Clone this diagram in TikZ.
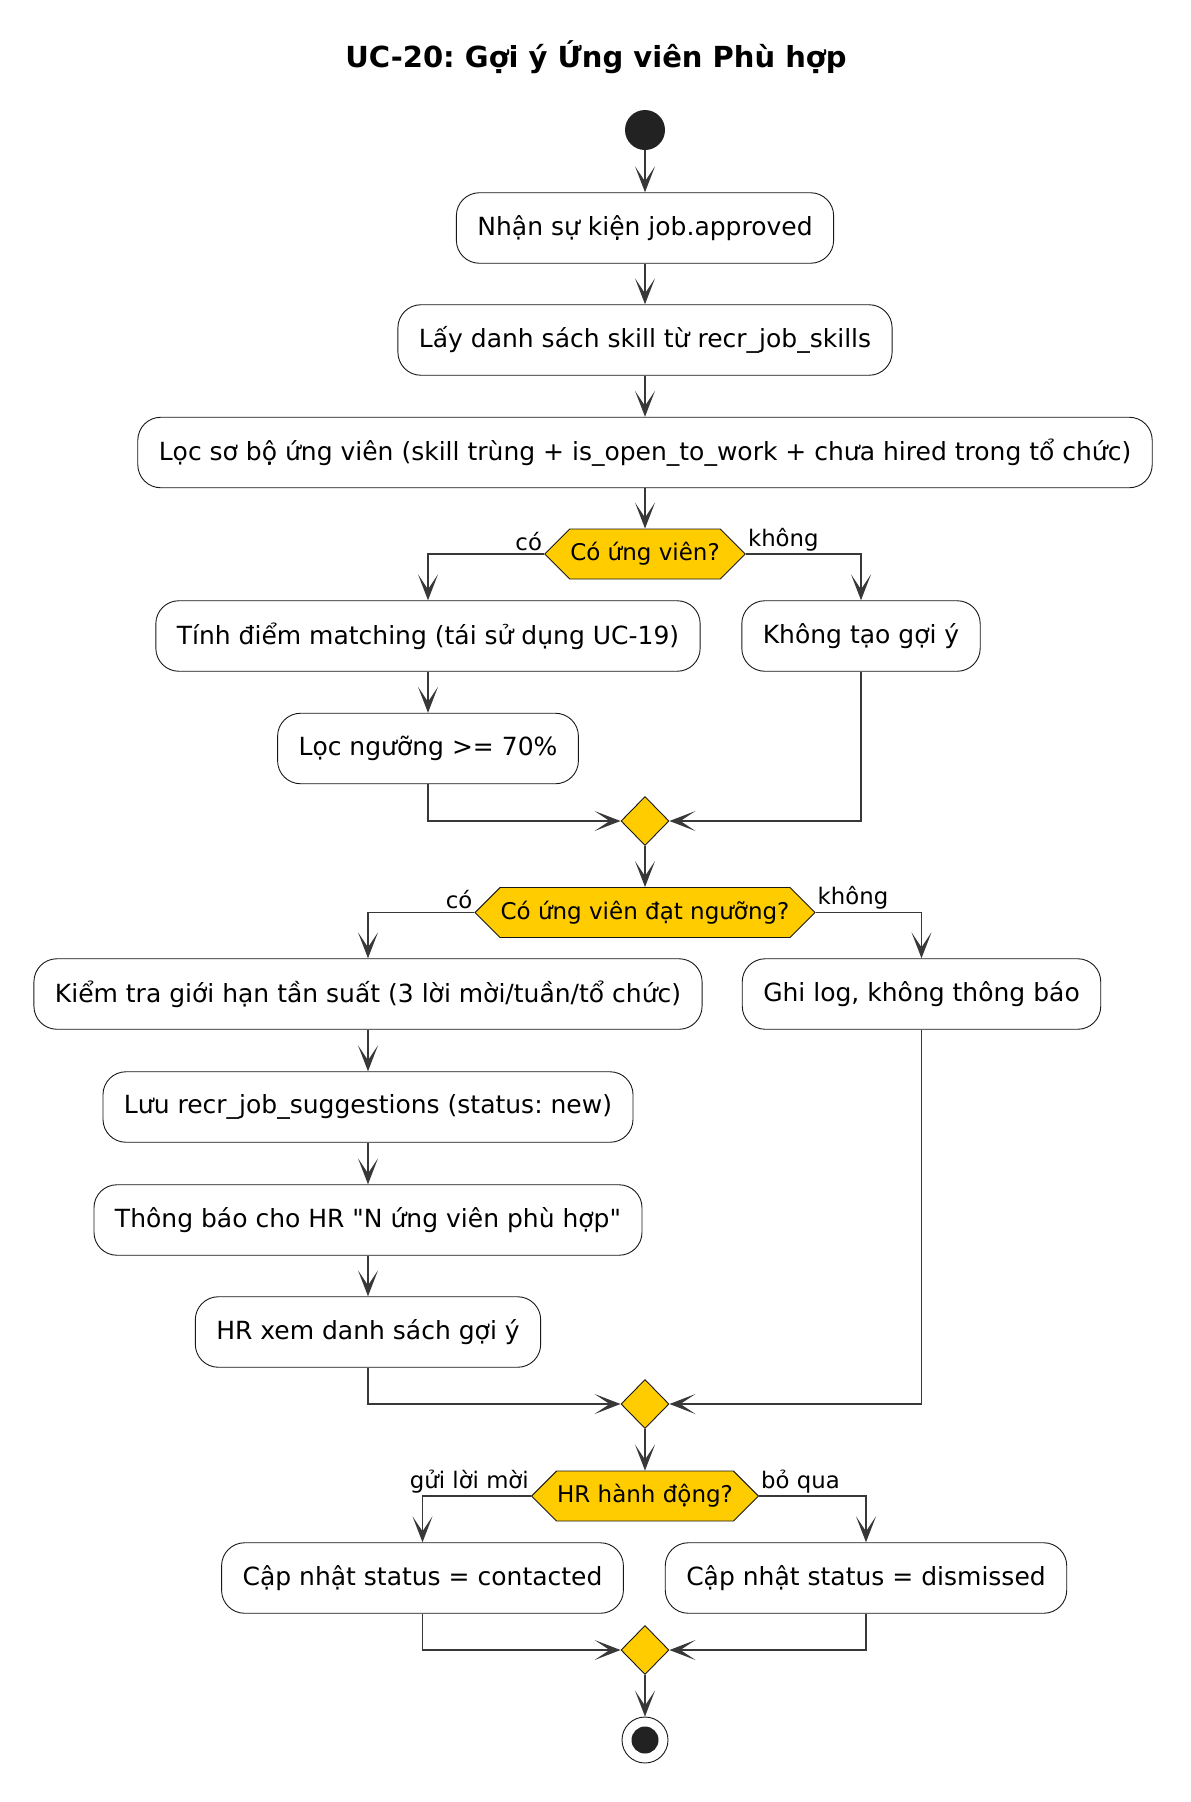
\documentclass[tikz,border=0pt]{standalone}
\usepackage{fontspec}
\setmainfont{DejaVu Sans}[Ligatures=TeXOff]
\frenchspacing
\usetikzlibrary{arrows.meta,calc,positioning,shapes.geometric,shapes.symbols}

\definecolor{lineclr}{HTML}{383838}
\definecolor{boxclr}{HTML}{181818}
\definecolor{gold}{HTML}{FFCC00}
\definecolor{dotclr}{HTML}{222222}

\tikzset{
  act/.style={draw=boxclr, line width=0.9pt, fill=white, rounded corners=23pt,
    minimum height=70.5pt, inner xsep=21pt, font=\fontsize{25}{29}\selectfont},
  ask/.style={shape=signal, signal to=east and west, signal pointer angle=90,
    draw=boxclr, line width=0.9pt, fill=gold, minimum height=50pt,
    inner xsep=0.5pt, inner ysep=0pt, font=\fontsize{23}{27}\selectfont},
  merge/.style={diamond, draw=boxclr, line width=0.9pt, fill=gold,
    minimum width=48pt, minimum height=49pt, inner sep=0pt},
  lbl/.style={font=\fontsize{22.8}{26}\selectfont, inner sep=1pt},
  flow/.style={draw=lineclr, line width=1.6pt,
    -{Stealth[length=26pt,width=20pt,inset=15pt]}},
}

\begin{document}
\frenchspacing
\begin{tikzpicture}[x=1pt,y=-1pt]
		\useasboundingbox (0,0) rectangle (1191,1802);
		\node[font=\fontsize{29}{33}\selectfont\bfseries] (title) at (596,57.5) {UC-20: Gợi ý Ứng viên Phù hợp};
		\node[circle, fill=dotclr, minimum size=40pt, inner sep=0pt] (start) at (645,130) {};
		% first block
		\node[act] (recv) at (645,228) {Nhận sự kiện job.approved};
		\node[act] (skills) at (645,340) {Lấy danh sách skill từ recr\_job\_skills};
		\node[act] (prefilter) at (645,452.5) {Lọc sơ bộ ứng viên (skill trùng + is\_open\_to\_work + chưa hired trong tổ chức)};
		\node[ask] (hasCand) at (645,554) {Có ứng viên?};
		\node[lbl, anchor=south east] (yes1) at ($(hasCand.west)+(-1,-2)$) {có};
		\node[lbl, anchor=south west] (no1) at ($(hasCand.east)+(1,-2)$) {không};
		\node[act] (score) at (428,636) {Tính điểm matching (tái sử dụng UC-19)};
		\node[act] (noSugg) at (861,636) {Không tạo gợi ý};
		\node[act] (threshold) at (428,748.5) {Lọc ngưỡng >= 70\%};
		\node[merge] (m1) at (645,821) {};
		% second block
		\node[ask] (passCand) at (645,912.5) {Có ứng viên đạt ngưỡng?};
		\node[lbl, anchor=south east] (yes2) at ($(passCand.west)+(-1,-2)$) {có};
		\node[lbl, anchor=south west] (no2) at ($(passCand.east)+(1,-2)$) {không};
		\node[act] (limit) at (368,994) {Kiểm tra giới hạn tần suất (3 lời mời/tuần/tổ chức)};
		\node[act] (logOnly) at (921.5,994) {Ghi log, không thông báo};
		\node[act] (save) at (368,1107) {Lưu recr\_job\_suggestions (status: new)};
		\node[act] (notify) at (368,1220) {Thông báo cho HR "N ứng viên phù hợp"};
		\node[act] (review) at (368,1332) {HR xem danh sách gợi ý};
		\node[merge] (m2) at (645,1404) {};
		% HR decision
		\node[ask] (hrAct) at (645,1496) {HR hành động?};
		\node[lbl, anchor=south east] (invite) at ($(hrAct.west)+(-1,-2)$) {gửi lời mời};
		\node[lbl, anchor=south west] (skip) at ($(hrAct.east)+(1,-2)$) {bỏ qua};
		\node[act] (contacted) at (422.5,1578) {Cập nhật status = contacted};
		\node[act] (dismissed) at (866,1578) {Cập nhật status = dismissed};
		\node[merge] (m3) at (645,1650) {};
		\node[circle, draw=boxclr, line width=0.9pt, fill=white, minimum size=46pt, inner sep=0pt] (stop) at (645,1740) {};
		\fill[dotclr] (stop.center) circle (13.5pt);
		% connectors
		\draw[flow] (start) -- (recv);
		\draw[flow] (recv) -- (skills);
		\draw[flow] (skills) -- (prefilter);
		\draw[flow] (prefilter) -- (hasCand);
		\draw[flow] (hasCand.west) -| (score.north);
		\draw[flow] (hasCand.east) -| (noSugg.north);
		\draw[flow] (score) -- (threshold);
		\draw[flow] (threshold.south) |- (m1.west);
		\draw[flow] (noSugg.south) |- (m1.east);
		\draw[flow] (m1) -- (passCand);
		\draw[flow] (passCand.west) -| (limit.north);
		\draw[flow] (passCand.east) -| (logOnly.north);
		\draw[flow] (limit) -- (save);
		\draw[flow] (save) -- (notify);
		\draw[flow] (notify) -- (review);
		\draw[flow] (review.south) |- (m2.west);
		\draw[flow] (logOnly.south) |- (m2.east);
		\draw[flow] (m2) -- (hrAct);
		\draw[flow] (hrAct.west) -| (contacted.north);
		\draw[flow] (hrAct.east) -| (dismissed.north);
		\draw[flow] (contacted.south) |- (m3.west);
		\draw[flow] (dismissed.south) |- (m3.east);
		\draw[flow] (m3) -- (stop);
\end{tikzpicture}
\end{document}
